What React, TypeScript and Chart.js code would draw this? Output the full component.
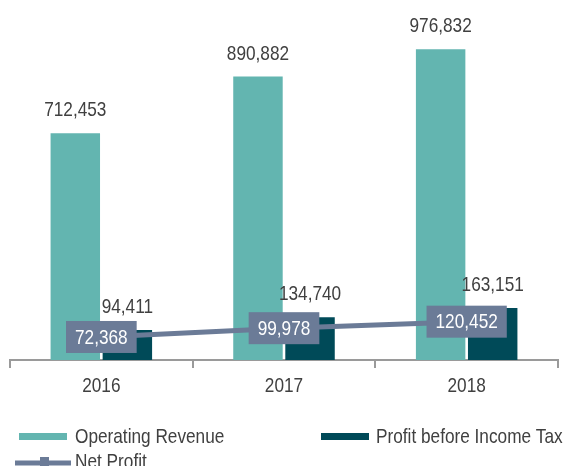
import React, { useEffect, useRef } from 'react';
import { Chart, registerables } from 'chart.js';

Chart.register(...registerables);

const years = ['2016', '2017', '2018'];
const operatingRevenue = [712453, 890882, 976832];
const profitBeforeTax = [94411, 134740, 163151];
const netProfit = [72368, 99978, 120452];
const seriesNames = ['Operating Revenue', 'Profit before Income Tax', 'Net Profit'];
const yMin = 0;
const yMax = 1100000;

const TEAL = '#63B5B0';
const DARK = '#004A58';
const SLATE = '#6B7B97';
const TEXT = '#404040';
const AXIS = '#9A9A9A';
const FONT = "'Liberation Sans', Arial, sans-serif";
const SQUEEZE = 0.82;

const fmt = (v: number) => v.toLocaleString('en-US');

function narrowText(ctx: any, text: string, x: number, y: number, align: string, baseline: string) {
  ctx.save();
  ctx.translate(x, y);
  ctx.scale(SQUEEZE, 1);
  ctx.textAlign = align;
  ctx.textBaseline = baseline;
  ctx.fillText(text, 0, 0);
  ctx.restore();
}

const labelsPlugin = {
  id: 'customLabels',
  afterDatasetsDraw(chart: any) {
    const ctx = chart.ctx;
    ctx.save();
    ctx.font = `21px ${FONT}`;
    [0, 1].forEach((di) => {
      const meta = chart.getDatasetMeta(di);
      meta.data.forEach((el: any, i: number) => {
        const v = chart.data.datasets[di].data[i];
        ctx.fillStyle = TEXT;
        narrowText(ctx, fmt(v), el.x, el.y - 17, 'center', 'alphabetic');
      });
    });
    const lm = chart.getDatasetMeta(2);
    lm.data.forEach((el: any, i: number) => {
      const v = chart.data.datasets[2].data[i];
      const t = fmt(v);
      const w = ctx.measureText(t).width * SQUEEZE + 18;
      const h = 32;
      ctx.fillStyle = SLATE;
      ctx.fillRect(el.x - w / 2, el.y - h / 2, w, h);
      ctx.fillStyle = '#FFFFFF';
      narrowText(ctx, t, el.x, el.y + 1, 'center', 'middle');
    });
    ctx.restore();
  },
  afterDraw(chart: any) {
    const ctx = chart.ctx;
    ctx.save();
    ctx.font = `21px ${FONT}`;
    // category labels
    const xs = chart.scales.x;
    years.forEach((y, i) => {
      ctx.fillStyle = TEXT;
      narrowText(ctx, y, xs.getPixelForTick(i), 386, 'center', 'middle');
    });
    // legend row 1
    ctx.fillStyle = TEAL;
    ctx.fillRect(19, 433, 48, 7);
    ctx.fillStyle = TEXT;
    narrowText(ctx, seriesNames[0], 75, 437, 'left', 'middle');
    ctx.fillStyle = DARK;
    ctx.fillRect(321, 433, 48, 7);
    ctx.fillStyle = TEXT;
    narrowText(ctx, seriesNames[1], 376, 437, 'left', 'middle');
    // legend row 2
    ctx.strokeStyle = SLATE;
    ctx.lineWidth = 5;
    ctx.beginPath();
    ctx.moveTo(15, 463);
    ctx.lineTo(71, 463);
    ctx.stroke();
    ctx.fillStyle = SLATE;
    ctx.fillRect(40, 457, 9, 13);
    ctx.fillStyle = TEXT;
    narrowText(ctx, seriesNames[2], 75, 462, 'left', 'middle');
    ctx.restore();
  },
};

export default function App() {
  const ref = useRef<HTMLCanvasElement | null>(null);
  useEffect(() => {
    if (!ref.current) return;
    const chart = new Chart(ref.current, {
      type: 'bar',
      data: {
        labels: years,
        datasets: [
          {
            label: seriesNames[0],
            data: operatingRevenue,
            backgroundColor: TEAL,
            order: 1,
            categoryPercentage: 0.57,
            barPercentage: 0.95,
          },
          {
            label: seriesNames[1],
            data: profitBeforeTax,
            backgroundColor: DARK,
            order: 2,
            categoryPercentage: 0.57,
            barPercentage: 0.95,
          },
          {
            type: 'line',
            label: seriesNames[2],
            data: netProfit,
            borderColor: SLATE,
            backgroundColor: SLATE,
            borderWidth: 5,
            pointRadius: 0,
            order: 0,
          } as any,
        ],
      },
      options: {
        responsive: true,
        maintainAspectRatio: false,
        animation: false,
        layout: { padding: { left: 10, right: 12, top: 10, bottom: 98 } },
        plugins: {
          legend: { display: false },
          tooltip: { enabled: false },
        },
        scales: {
          x: {
            offset: true,
            grid: {
              display: true,
              offset: true,
              drawOnChartArea: false,
              drawTicks: true,
              tickLength: 8,
              color: AXIS,
              lineWidth: 2,
            },
            border: { display: true, color: AXIS, width: 2 },
            ticks: { display: false },
          },
          y: {
            display: false,
            min: yMin,
            max: yMax,
          },
        },
      },
      plugins: [labelsPlugin],
    });
    return () => chart.destroy();
  }, []);
  return (
    <div style={{ position: 'absolute', left: 0, top: 0, width: 570, height: 466, background: '#fff' }}>
      <canvas ref={ref} />
    </div>
  );
}
